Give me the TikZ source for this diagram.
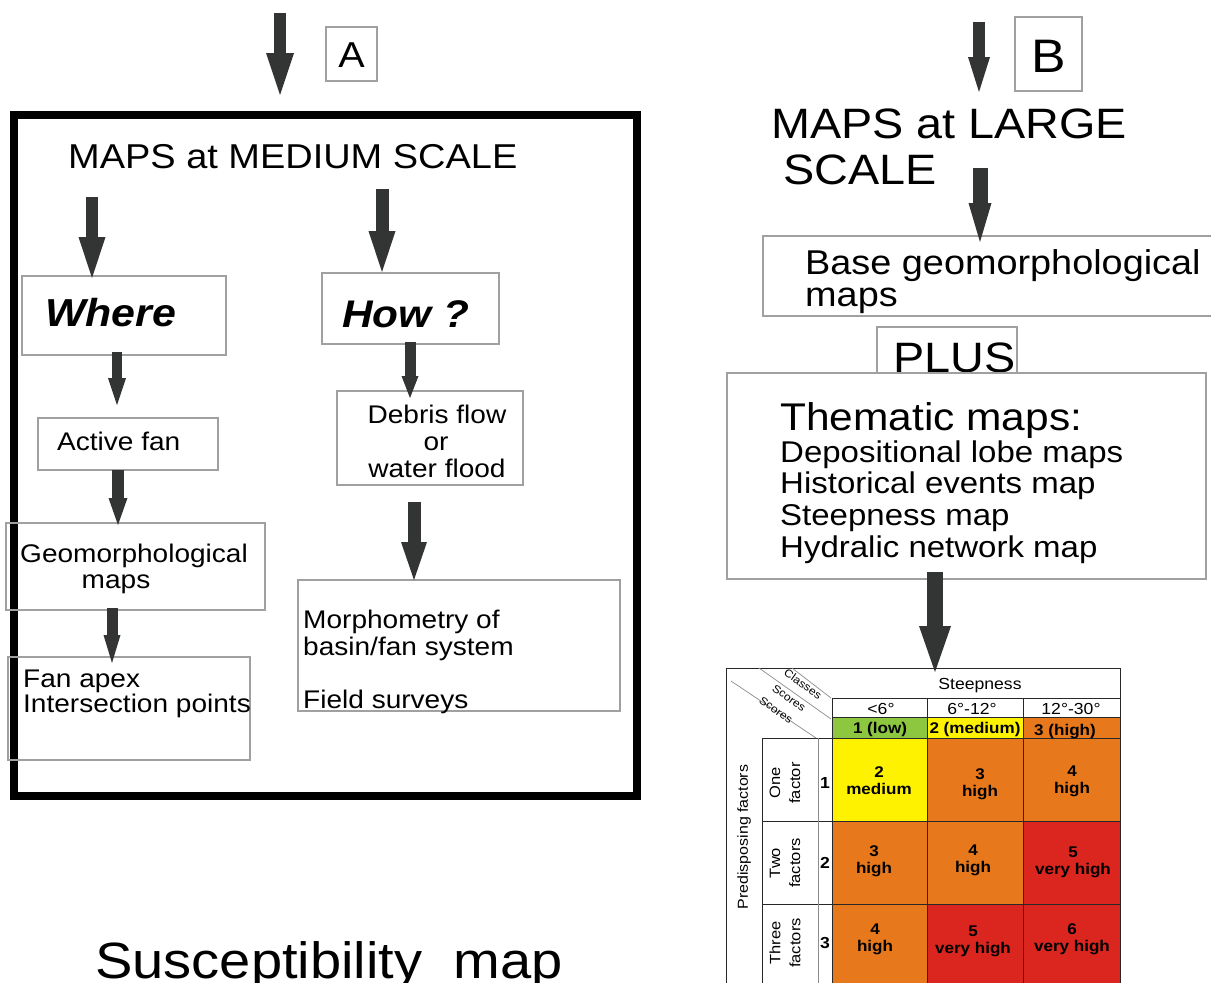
\documentclass[tikz,border=0pt]{standalone}
\usepackage{fontspec}
\setmainfont[FakeStretch=1.1]{Liberation Sans}
\usetikzlibrary{arrows.meta,calc}
\newcommand\fsz[1]{\fontsize{#1}{#1}\selectfont}
\definecolor{arrgray}{RGB}{51,53,53}
\definecolor{boxgray}{RGB}{160,160,160}
\definecolor{cgreen}{RGB}{141,198,63}
\definecolor{cyellow}{RGB}{255,242,0}
\definecolor{corange}{RGB}{232,120,28}
\definecolor{cred}{RGB}{218,38,30}
\definecolor{tline}{RGB}{40,40,40}
\definecolor{tgray}{RGB}{140,140,140}
\begin{document}
\begin{tikzpicture}[x=1pt,y=-1pt,
  box/.style={draw=boxgray,line width=1.1pt,inner sep=0pt,outer sep=0pt,anchor=north west},
  txt/.style={inner sep=0pt,anchor=base west,text=black},
  ctxt/.style={inner sep=0pt,anchor=base,text=black},
  fat/.style n args={3}{draw=arrgray,line width=#1pt,-{Triangle[length=#2pt,width=#3pt,line width=0pt]}},
  tl/.style={draw=tline,line width=1pt},
  diag/.style={draw=tgray,line width=0.7pt},
  cell/.style={inner sep=0pt,align=center,font=\bfseries\fontsize{15.5}{17}\selectfont},
  side/.style={inner sep=0pt,align=center,rotate=90,font=\fontsize{15}{20}\selectfont},
  dlab/.style={inner sep=0pt,rotate=-35,font=\fontsize{11}{12}\selectfont}
]
\useasboundingbox (0,0) rectangle (1211,983);
\clip (0,0) rectangle (1211,983);
\fill[white] (0,0) rectangle (1211,983);

% ---------- Part A ----------
\node[box,minimum width=51pt,minimum height=54pt] (boxA) at (326,27) {};
\node[ctxt,font=\fsz{36}] (labA) at (351.5,67) {A};
\node[draw=black,line width=8pt,inner sep=0pt,outer sep=0pt,anchor=north west,minimum width=623pt,minimum height=681pt] (frame) at (14,115) {};
\coordinate (topA) at (280,13);
\draw[fat={12}{42}{28}] (topA) -- ($(frame.north west)+(266,-20)$);

\node[txt,font=\fsz{34.5}] (mt) at (68,168) {MAPS at MEDIUM SCALE};

\node[box,minimum width=204pt,minimum height=79pt] (where) at (22,276) {};
\node[txt,font=\bfseries\itshape\fsz{39}] (whereT) at (45,326) {Where};
\node[box,minimum width=177pt,minimum height=71pt] (how) at (322,273) {};
\node[txt,font=\bfseries\itshape\fsz{38.5}] (howT) at (342,327) {How ?};

\node[box,minimum width=180pt,minimum height=52pt] (active) at (38,418) {};
\node[txt,font=\fsz{25.5}] (activeT) at (57,450) {Active fan};

\node[box,minimum width=186pt,minimum height=94pt] (debris) at (337,391) {};
\node[ctxt,font=\fsz{25.5}] (debT1) at (437,423) {Debris flow};
\node[ctxt,font=\fsz{25.5}] (debT2) at (436,450) {or};
\node[ctxt,font=\fsz{25.5}] (debT3) at (437,477) {water flood};

\node[box,minimum width=259pt,minimum height=87pt] (geo) at (6,523) {};
\node[txt,font=\fsz{25.5}] (geoT1) at (20,562) {Geomorphological};
\node[ctxt,font=\fsz{25.5}] (geoT2) at (116,588) {maps};

\node[box,minimum width=322pt,minimum height=131pt] (morph) at (298,580) {};
\node[txt,font=\fsz{25.5}] (morT1) at (303,628) {Morphometry of};
\node[txt,font=\fsz{25.5}] (morT2) at (303,655) {basin/fan system};
\node[txt,font=\fsz{25.5}] (morT3) at (303,708) {Field surveys};

\node[box,minimum width=242pt,minimum height=103pt] (fan) at (8,657) {};
\node[txt,font=\fsz{25.5}] (fanT1) at (23,687) {Fan apex};
\node[txt,font=\fsz{25.5}] (fanT2) at (23,712) {Intersection points};

\draw[fat={12}{41}{27}] ($(mt.base west)+(24,29)$) -- ($(where.north west)+(70,2)$);
\draw[fat={13}{41}{27}] ($(mt.base west)+(314,21)$) -- ($(how.north west)+(60,-1)$);
\draw[fat={10}{27}{18}] ($(where.south west)+(95,-3)$) -- ($(active.north west)+(79,-13)$);
\draw[fat={11}{22}{17}] ($(how.south west)+(88,-2)$) -- ($(debris.north west)+(73,7)$);
\draw[fat={12}{27}{19}] ($(active.south west)+(80,0)$) -- ($(geo.north west)+(112,2)$);
\draw[fat={13}{38}{26}] ($(debris.south west)+(77,17)$) -- ($(morph.north west)+(116,0)$);
\draw[fat={11}{28}{17}] ($(geo.south west)+(106,-2)$) -- ($(fan.north west)+(104,6)$);

\node[txt,font=\fsz{51}] (susc) at (95,978) {Susceptibility\ \ map};

% ---------- Part B ----------
\node[box,minimum width=67pt,minimum height=74pt] (boxB) at (1015,17) {};
\node[ctxt,font=\fsz{47}] (labB) at (1049,72) {B};
\node[txt,font=\fsz{42.5}] (ml) at (771,138) {MAPS at LARGE};
\node[txt,font=\fsz{42.5}] (ml2) at (783,184) {SCALE};
\coordinate (topB) at (979,22);
\draw[fat={12}{35}{22}] (topB) -- ($(ml.base west)+(208,-46)$);

\node[box,minimum width=467pt,minimum height=80pt] (base) at (763,236) {};
\node[txt,font=\fsz{34.4}] (baseT1) at (805,274) {Base geomorphological};
\node[txt,font=\fsz{34.4}] (baseT2) at (805,306) {maps};
\draw[fat={15}{39}{23}] ($(ml.base west)+(209,30)$) -- ($(base.north west)+(217,6)$);

\node[box,minimum width=140pt,minimum height=46pt] (plus) at (877,327) {};
\node[txt,font=\fsz{42.5}] (plusT) at (893,372) {PLUS};

\node[box,minimum width=479pt,minimum height=206pt] (them) at (727,373) {};
\node[txt,font=\fsz{38.6}] (themT) at (780,430) {Thematic maps:};
\node[txt,font=\fsz{30}] (th1) at (780,462) {Depositional lobe maps};
\node[txt,font=\fsz{30}] (th2) at (780,493) {Historical events map};
\node[txt,font=\fsz{30}] (th3) at (780,525) {Steepness map};
\node[txt,font=\fsz{30}] (th4) at (780,557) {Hydralic network map};

% ---------- Table ----------
\node[draw=tline,line width=1pt,inner sep=0pt,outer sep=0pt,anchor=north west,minimum width=394pt,minimum height=340pt] (tbl) at (726,668) {};
\draw[fat={16}{46}{32}] ($(them.south west)+(208,-7)$) -- ($(tbl.north west)+(209,4)$);

% score row
\fill[cgreen] (832,717) rectangle (927,738);
\fill[cyellow] (927,717) rectangle (1023,738);
\fill[corange] (1023,717) rectangle (1120,738);
% body cells
\fill[cyellow] (832,738) rectangle (927,821);
\fill[corange] (927,738) rectangle (1023,821);
\fill[corange] (1023,738) rectangle (1120,821);
\fill[corange] (832,821) rectangle (927,904);
\fill[corange] (927,821) rectangle (1023,904);
\fill[cred] (1023,821) rectangle (1120,904);
\fill[corange] (832,904) rectangle (927,1000);
\fill[cred] (927,904) rectangle (1023,1000);
\fill[cred] (1023,904) rectangle (1120,1000);

% lines
\draw[tl] (832,698) -- (1120,698);
\draw[tl] (832,717) -- (1120,717);
\draw[tl] (762,738) -- (1120,738);
\draw[tl] (762,821) -- (1120,821);
\draw[tl] (762,904) -- (1120,904);
\draw[tl] (832,698) -- (832,1000);
\draw[tl] (927,698) -- (927,1000);
\draw[tl] (1023,698) -- (1023,1000);
\draw[tl] (762,738) -- (762,1000);
\draw[diag] (818,738) -- (818,1000);
\draw[tl] (726,668) -- (1120,668);
\draw[tl] (1120,668) -- (1120,1000);
\draw[tl] (726,668) -- (726,1000);
% diagonals
\draw[diag] (792,668) -- (831,698);
\draw[diag] (759,668) -- (831,719);
\draw[diag] (731,681) -- (816,738);
\node[dlab] (cls) at (803,684) {Classes};
\node[dlab] (sc1) at (789,698) {Scores};
\node[dlab] (sc2) at (776,710) {Scores};

% headers
\node[ctxt,font=\fsz{16}] (steep) at (980,689) {Steepness};
\node[ctxt,font=\fsz{16}] (h1) at (881,714) {<6°};
\node[ctxt,font=\fsz{16}] (h2) at (972,714) {6°-12°};
\node[ctxt,font=\fsz{16}] (h3) at (1071,714) {12°-30°};
\node[ctxt,font=\bfseries\fsz{15.5}] (s1) at (880,733) {1 (low)};
\node[ctxt,font=\bfseries\fsz{15.5}] (s2) at (975,733) {2 (medium)};
\node[ctxt,font=\bfseries\fsz{15.5}] (s3) at (1065,735) {3 (high)};

% cells
\node[cell] (c11) at (879,781) {2\\medium};
\node[cell] (c12) at (980,784) {3\\high};
\node[cell] (c13) at (1072,781) {4\\high};
\node[cell] (c21) at (874,861) {3\\high};
\node[cell] (c22) at (973,860) {4\\high};
\node[cell] (c23) at (1073,862) {5\\very high};
\node[cell] (c31) at (875,939) {4\\high};
\node[cell] (c32) at (973,941) {5\\very high};
\node[cell] (c33) at (1072,939) {6\\very high};

% side labels
\node[inner sep=0pt,rotate=90,font=\fsz{14.5}] (pred) at (744,837) {Predisposing factors};
\node[side] (f1) at (785,783) {One\\factor};
\node[side] (f2) at (785,863) {Two\\factors};
\node[side] (f3) at (785,943) {Three\\factors};
\node[inner sep=0pt,font=\bfseries\fsz{16}] (n1) at (825,783) {1};
\node[inner sep=0pt,font=\bfseries\fsz{16}] (n2) at (825,863) {2};
\node[inner sep=0pt,font=\bfseries\fsz{16}] (n3) at (825,943) {3};
\end{tikzpicture}
\end{document}
